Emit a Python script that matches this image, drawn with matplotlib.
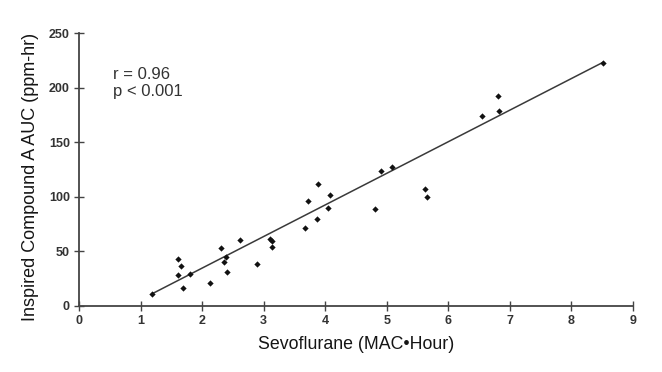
import numpy as np
import matplotlib
matplotlib.use("Agg")
import matplotlib.pyplot as plt

plt.rcParams['font.family'] = ['Liberation Sans', 'DejaVu Sans']

sevo_mac_hr = [1.19, 1.61, 1.66, 1.61, 1.69, 1.80, 2.13, 2.31, 2.35, 2.39, 2.40,
               2.61, 2.89, 3.10, 3.13, 3.13, 3.67, 3.72, 3.88, 3.86, 4.07, 4.04,
               4.81, 4.90, 5.08, 5.62, 5.65, 6.54, 6.80, 6.83, 8.51]
compound_a_auc = [11, 43, 36, 28, 16, 29, 21, 53, 40, 45, 31,
                  60, 38, 61, 59, 54, 71, 96, 112, 80, 102, 90,
                  89, 124, 127, 107, 100, 174, 192, 179, 223]
# regression line as drawn in the figure
fit_slope = 29.0
fit_intercept = -23.5
x_ticks = [0, 1, 2, 3, 4, 5, 6, 7, 8, 9]
y_ticks = [0, 50, 100, 150, 200, 250]
stats_text = "r = 0.96\np < 0.001"

x = np.array(sevo_mac_hr)
y = np.array(compound_a_auc)

fig = plt.figure(figsize=(6.62, 3.72), dpi=100)
ax = fig.add_axes([79/662, 1 - 305.7/372, (633-79)/662, (305.7-33.3)/372])

xl = np.array([x.min(), x.max()])
ax.plot(xl, fit_slope * xl + fit_intercept, color='#3a3a3a', lw=1.1, zorder=2)
ax.plot(x, y, 'D', color='#111111', ms=3.2, mew=0, zorder=3)

ax.set_xlim(0, 9)
ax.set_ylim(0, 250)
ax.set_xticks(x_ticks)
ax.set_yticks(y_ticks)
for s in ['top', 'right']:
    ax.spines[s].set_visible(False)
for s in ['left', 'bottom']:
    ax.spines[s].set_color('#444444')
    ax.spines[s].set_linewidth(1.3)
ax.tick_params(direction='inout', length=7, width=1, color='#444444',
               labelsize=9, labelcolor='#333333', pad=3)
for lab in ax.get_xticklabels() + ax.get_yticklabels():
    lab.set_fontweight('bold')

ax.set_xlabel("Sevoflurane (MAC\u2022Hour)", fontsize=12.8, color='#151515', labelpad=7)
ax.set_ylabel("Inspired Compound A AUC (ppm-hr)", fontsize=13, color='#151515', labelpad=7)
ax.yaxis.label.set_y(0.472)

ax.text(0.55, 219, stats_text, fontsize=12, color='#333333', va='top', ha='left',
        linespacing=1.15)

fig.savefig("out.png", dpi=100)
